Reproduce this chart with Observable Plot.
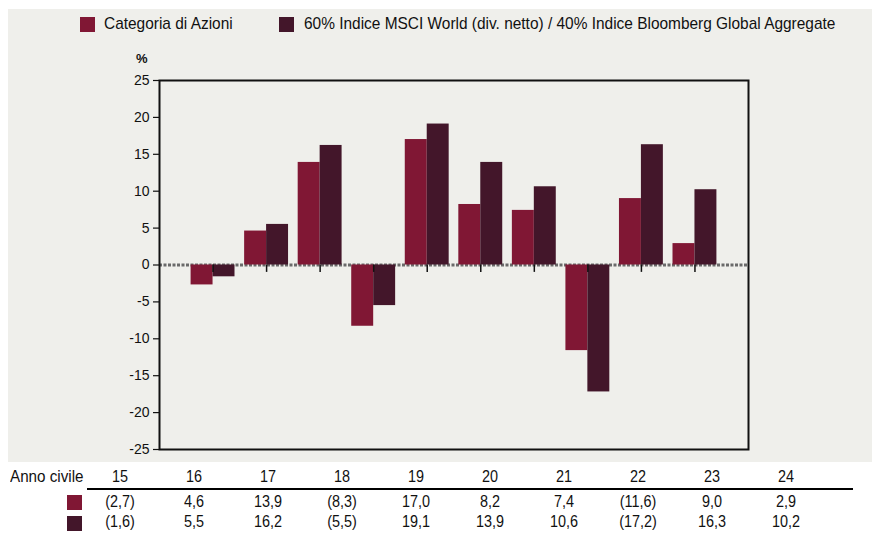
<!DOCTYPE html>
<html><head><meta charset="utf-8">
<script src="https://cdn.jsdelivr.net/npm/d3@7"></script>
<script src="https://cdn.jsdelivr.net/npm/@observablehq/plot@0.6"></script>
<style>
body{margin:0;background:#fff;}
#wrap{position:relative;width:872px;height:533px;overflow:hidden;font-family:"Liberation Sans",Arial,sans-serif;color:#111;}
#bg{position:absolute;left:8px;top:9px;width:864px;height:453px;background:#efefeb;}
#chart{position:absolute;left:0;top:0;}
.sw{position:absolute;width:15px;height:15px;}
.lt{position:absolute;font-size:17px;line-height:1;white-space:nowrap;transform-origin:0 0;transform:scaleX(0.908);}
.tc{position:absolute;font-size:16px;line-height:1;white-space:nowrap;transform:translateX(-50%) scaleX(0.9);}
#hline{position:absolute;left:87px;top:488px;width:766px;height:2px;background:#000;}
</style></head><body>
<div id="wrap"><div id="bg"></div><div id="chart"></div><div id="legend"></div><div id="table"></div></div>
<script>
const years = [15, 16, 17, 18, 19, 20, 21, 22, 23, 24];
const seriesNames = ["Categoria di Azioni", "60% Indice MSCI World (div. netto) / 40% Indice Bloomberg Global Aggregate"];
const categoria = [-2.7, 4.6, 13.9, -8.3, 17.0, 8.2, 7.4, -11.6, 9.0, 2.9];
const indice = [-1.6, 5.5, 16.2, -5.5, 19.1, 13.9, 10.6, -17.2, 16.3, 10.2];
const yTicks = [-25, -20, -15, -10, -5, 0, 5, 10, 15, 20, 25];
const colors = ["#801734", "#43162a"];
const rowLabel = "Anno civile";
const unitLabel = "%";

const FONT = '"Liberation Sans",Arial,sans-serif';
const bw = 0.41;
const bars = [];
years.forEach((y, i) => {
  bars.push({year: y, value: categoria[i], s: 0});
  bars.push({year: y, value: indice[i], s: 1});
});

const chart = Plot.plot({
  width: 872, height: 462,
  marginLeft: 159, marginRight: 124, marginTop: 80, marginBottom: 13,
  style: {background: "transparent", fontFamily: FONT, fontSize: "14px", color: "#111"},
  x: {domain: [14, 25], axis: null},
  y: {domain: [-25, 25]},
  marks: [
    Plot.ruleY([0], {stroke: "#6a6a6a", strokeWidth: 3, strokeDasharray: "3,1.5"}),
    Plot.rect(bars, {
      x1: d => d.s === 0 ? d.year - bw : d.year,
      x2: d => d.s === 0 ? d.year : d.year + bw,
      y1: 0, y2: "value",
      fill: d => colors[d.s]
    }),
    Plot.ruleX(years, {x: d => d, y1: 0, y2: -1.0, stroke: "#111", strokeWidth: 1.5}),
    Plot.axisY({ticks: yTicks, tickSize: 6, tickPadding: 4, tickFormat: d => String(d), label: null, stroke: "#111", strokeWidth: 1.2}),
    Plot.frame({stroke: "#111", strokeWidth: 2}),
    Plot.text([unitLabel], {frameAnchor: "top-left", textAnchor: "end", dx: -12, dy: -27, fontWeight: "bold", fontSize: 13})
  ]
});
document.getElementById("chart").appendChild(chart);

// Legend
const legend = document.getElementById("legend");
const legendPos = [{sq: 80, tx: 104}, {sq: 279, tx: 304}];
seriesNames.forEach((name, i) => {
  const sq = document.createElement("div");
  sq.className = "sw";
  sq.style.left = legendPos[i].sq + "px"; sq.style.top = "17px"; sq.style.background = colors[i];
  legend.appendChild(sq);
  const t = document.createElement("div");
  t.className = "lt";
  t.style.left = legendPos[i].tx + "px"; t.style.top = "15px";
  t.textContent = name;
  legend.appendChild(t);
});

// Table
const fmt = d => { const s = Math.abs(d).toFixed(1).replace(".", ","); return d < 0 ? "(" + s + ")" : s; };
const table = document.getElementById("table");
const lab = document.createElement("div");
lab.className = "lt"; lab.style.left = "10px"; lab.style.top = "469px"; lab.style.fontSize = "16px";
lab.style.transform = "scaleX(0.95)";
lab.textContent = rowLabel; table.appendChild(lab);
const hl = document.createElement("div"); hl.id = "hline"; table.appendChild(hl);
[0, 1].forEach(r => {
  const sq = document.createElement("div");
  sq.className = "sw"; sq.style.left = "67px"; sq.style.top = (495 + r * 21) + "px"; sq.style.background = colors[r];
  table.appendChild(sq);
});
years.forEach((y, i) => {
  const cx = 120 + i * 74;
  const rows = [String(y), fmt(categoria[i]), fmt(indice[i])];
  const tops = [469, 494, 514];
  rows.forEach((txt, r) => {
    const c = document.createElement("div");
    c.className = "tc"; c.style.left = cx + "px"; c.style.top = tops[r] + "px";
    c.textContent = txt; table.appendChild(c);
  });
});
</script>
</body></html>
